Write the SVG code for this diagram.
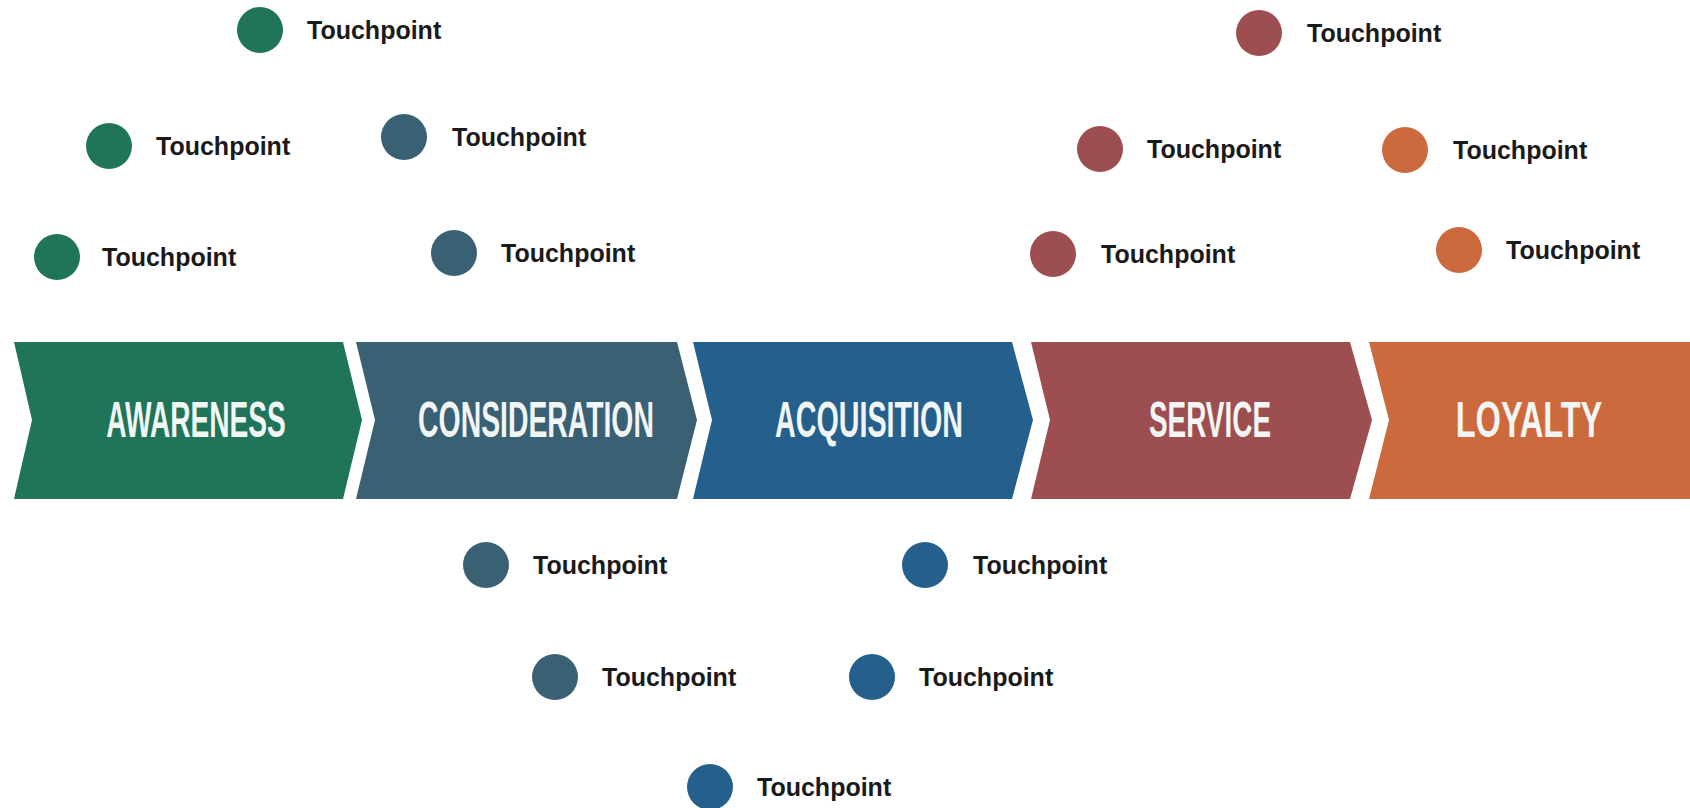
<svg xmlns="http://www.w3.org/2000/svg" width="1690" height="808" viewBox="0 0 1690 808">
  <style>
    .stage-label { font-family: "Liberation Sans", Arial, sans-serif; font-weight: bold; font-size: 50px; fill: #f1f5f3; text-anchor: middle; }
    .tp-label { font-family: "Liberation Sans", Arial, sans-serif; font-weight: bold; font-size: 25px; fill: #1a1a1a; }
    .awareness { fill: #1f7459; }
    .consideration { fill: #3a6073; }
    .acquisition { fill: #24608b; }
    .service { fill: #9d4e50; }
    .loyalty { fill: #cc6a3e; }
  </style>
  <rect width="1690" height="808" fill="#ffffff"/>

  <!-- Journey stages: chevrons with condensed (horizontally scaled) titles -->
  <g id="stage-awareness">
    <polygon class="awareness" points="14,342 343,342 362,420 343,499 14,499 32,420"/>
    <text class="stage-label" transform="translate(196,437) scale(0.56,1)" textLength="321" lengthAdjust="spacingAndGlyphs">AWARENESS</text>
  </g>
  <g id="stage-consideration">
    <polygon class="consideration" points="356,342 677,342 697,420 677,499 356,499 375,420"/>
    <text class="stage-label" transform="translate(536,437) scale(0.56,1)" textLength="421" lengthAdjust="spacingAndGlyphs">CONSIDERATION</text>
  </g>
  <g id="stage-acquisition">
    <polygon class="acquisition" points="693,342 1012,342 1033,420 1012,499 693,499 712,420"/>
    <text class="stage-label" transform="translate(869,437) scale(0.56,1)" textLength="336" lengthAdjust="spacingAndGlyphs">ACQUISITION</text>
  </g>
  <g id="stage-service">
    <polygon class="service" points="1031,342 1350,342 1372,420 1350,499 1031,499 1050,420"/>
    <text class="stage-label" transform="translate(1210,437) scale(0.56,1)" textLength="218" lengthAdjust="spacingAndGlyphs">SERVICE</text>
  </g>
  <g id="stage-loyalty">
    <polygon class="loyalty" points="1369,342 1690,342 1690,499 1369,499 1389,420"/>
    <text class="stage-label" transform="translate(1529,437) scale(0.56,1)" textLength="262" lengthAdjust="spacingAndGlyphs">LOYALTY</text>
  </g>

  <!-- Connectors: none drawn; touchpoints sit freely around their stage -->
  <g id="connectors"/>

  <!-- Awareness touchpoints -->
  <g id="tp-awareness-1"><circle class="awareness" cx="260" cy="30" r="23"/><text class="tp-label" x="307" y="39">Touchpoint</text></g>
  <g id="tp-awareness-2"><circle class="awareness" cx="109" cy="146" r="23"/><text class="tp-label" x="156" y="155">Touchpoint</text></g>
  <g id="tp-awareness-3"><circle class="awareness" cx="57" cy="257" r="23"/><text class="tp-label" x="102" y="266">Touchpoint</text></g>

  <!-- Consideration touchpoints -->
  <g id="tp-consideration-1"><circle class="consideration" cx="404" cy="137" r="23"/><text class="tp-label" x="452" y="146">Touchpoint</text></g>
  <g id="tp-consideration-2"><circle class="consideration" cx="454" cy="253" r="23"/><text class="tp-label" x="501" y="262">Touchpoint</text></g>
  <g id="tp-consideration-3"><circle class="consideration" cx="486" cy="565" r="23"/><text class="tp-label" x="533" y="574">Touchpoint</text></g>
  <g id="tp-consideration-4"><circle class="consideration" cx="555" cy="677" r="23"/><text class="tp-label" x="602" y="686">Touchpoint</text></g>

  <!-- Acquisition touchpoints -->
  <g id="tp-acquisition-1"><circle class="acquisition" cx="925" cy="565" r="23"/><text class="tp-label" x="973" y="574">Touchpoint</text></g>
  <g id="tp-acquisition-2"><circle class="acquisition" cx="872" cy="677" r="23"/><text class="tp-label" x="919" y="686">Touchpoint</text></g>
  <g id="tp-acquisition-3"><circle class="acquisition" cx="710" cy="787" r="23"/><text class="tp-label" x="757" y="796">Touchpoint</text></g>

  <!-- Service touchpoints -->
  <g id="tp-service-1"><circle class="service" cx="1259" cy="33" r="23"/><text class="tp-label" x="1307" y="42">Touchpoint</text></g>
  <g id="tp-service-2"><circle class="service" cx="1100" cy="149" r="23"/><text class="tp-label" x="1147" y="158">Touchpoint</text></g>
  <g id="tp-service-3"><circle class="service" cx="1053" cy="254" r="23"/><text class="tp-label" x="1101" y="263">Touchpoint</text></g>

  <!-- Loyalty touchpoints -->
  <g id="tp-loyalty-1"><circle class="loyalty" cx="1405" cy="150" r="23"/><text class="tp-label" x="1453" y="159">Touchpoint</text></g>
  <g id="tp-loyalty-2"><circle class="loyalty" cx="1459" cy="250" r="23"/><text class="tp-label" x="1506" y="259">Touchpoint</text></g>
</svg>
